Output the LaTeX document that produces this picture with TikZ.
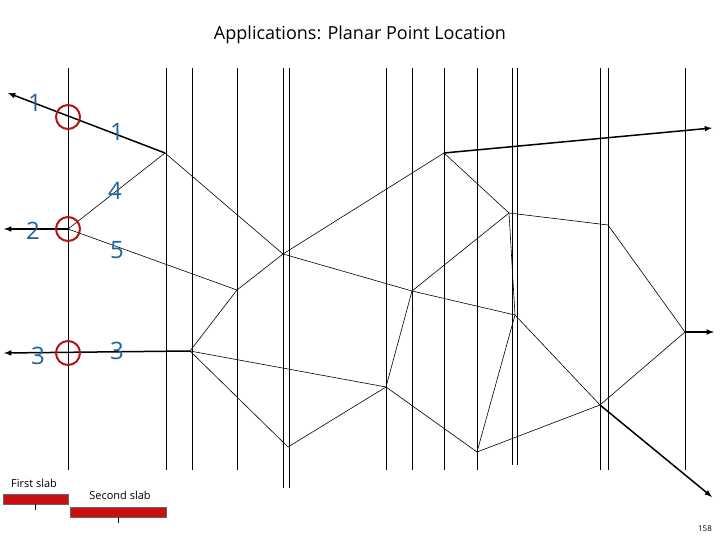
\documentclass[tikz,border=0pt]{standalone}
\usepackage{fontspec}
\setmainfont{Open Sans}
\usetikzlibrary{arrows}

\definecolor{slabred}{RGB}{200,16,16}
\definecolor{ringred}{RGB}{180,20,20}
\definecolor{numblue}{RGB}{30,100,160}

\tikzset{
	edge/.style={line width=0.6pt},
	ray/.style={line width=1.5pt,-latex},
	slab/.style={line width=0.7pt},
	ring/.style={draw=ringred,line width=2pt},
	num/.style={text=numblue,font=\fontsize{24}{24}\selectfont},
	bar/.style={fill=slabred,draw=black!60,line width=0.4pt}
}

\begin{document}
\begin{tikzpicture}[x=1pt,y=-1pt]
	\useasboundingbox (0,0) rectangle (720,540);
	
	\node[font=\fontsize{18}{18}\selectfont] (title) at (360,35) {Applications: Planar Point Location};
	
	% slab boundaries
	\foreach \x/\e in {68/470,166/470,192/470,237/470,283/488,289/488,386/470,412/470,444/470,477/470,512/465,517/465,600/470,608/470,685/470}
		\draw[slab] (\x,68) -- (\x,\e);
	
	% vertices
	\coordinate (A) at (165,153);
	\coordinate (B) at (68,229);
	\coordinate (C) at (190,351);
	\coordinate (D) at (237,290);
	\coordinate (E) at (283,254);
	\coordinate (F) at (444,153);
	\coordinate (G) at (515,315);
	\coordinate (H) at (412,291);
	\coordinate (I) at (386,387);
	\coordinate (J) at (288,447);
	\coordinate (K) at (509,213);
	\coordinate (L) at (608,225);
	\coordinate (M) at (685,332);
	\coordinate (N) at (600,405);
	\coordinate (P) at (477,452);
	
	% rays
	\coordinate (A0) at (8,93);
	\coordinate (B0) at (4,229);
	\coordinate (C0) at (4,353);
	\coordinate (F0) at (712,128);
	\coordinate (M0) at (714,332);
	\coordinate (N0) at (712,497);
	\draw[ray] (A) -- (A0);
	\draw[ray] (B) -- (B0);
	\draw[ray] (C) -- (C0);
	\draw[ray] (F) -- (F0);
	\draw[ray] (M) -- (M0);
	\draw[ray] (N) -- (N0);
	
	% edges
	\draw[edge] (B) -- (A);
	\draw[edge] (B) -- (D);
	\draw[edge] (A) -- (E);
	\draw[edge] (E) -- (F);
	\draw[edge] (E) -- (D);
	\draw[edge] (D) -- (C);
	\draw[edge] (E) -- (H);
	\draw[edge] (C) -- (I);
	\draw[edge] (C) -- (J);
	\draw[edge] (J) -- (I);
	\draw[edge] (I) -- (H);
	\draw[edge] (H) -- (K);
	\draw[edge] (H) -- (G);
	\draw[edge] (I) -- (P);
	\draw[edge] (F) -- (K);
	\draw[edge] (K) -- (L);
	\draw[edge] (L) -- (M);
	\draw[edge] (M) -- (N);
	\draw[edge] (G) -- (N);
	\draw[edge] (G) -- (P);
	\draw[edge] (K) -- (G);
	\draw[edge] (P) -- (N);
	
	% query points
	\draw[ring] (68,117) circle (12);
	\draw[ring] (B) circle (12);
	\draw[ring] (68,353) circle (12);
	
	\node[num] (n1a) at (35,103) {1};
	\node[num] (n1b) at (117,132) {1};
	\node[num] (n4) at (115,191) {4};
	\node[num] (n2) at (33,231) {2};
	\node[num] (n5) at (117,250) {5};
	\node[num] (n3a) at (38,356) {3};
	\node[num] (n3b) at (117,351) {3};
	
	% slab bars
	\draw[bar] (3,494) rectangle (68,504);
	\draw[bar] (70,507) rectangle (166,517);
	\draw (35,504) -- (35,510);
	\draw (118,517) -- (118,523);
	\node[font=\fontsize{11}{11}\selectfont] (s1) at (34,483) {First slab};
	\node[font=\fontsize{11}{11}\selectfont] (s2) at (120,495) {Second slab};
	\node[font=\fontsize{8}{8}\selectfont] (pg) at (705,529) {158};
\end{tikzpicture}
\end{document}
